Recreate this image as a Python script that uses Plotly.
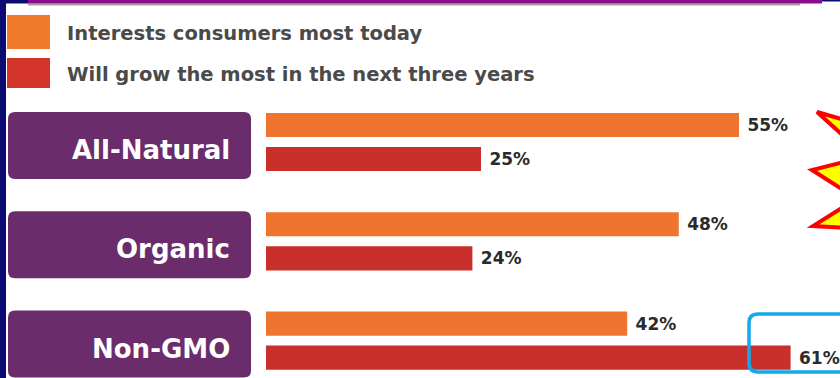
import plotly.graph_objects as go

# Survey data
categories = ["All-Natural", "Organic", "Non-GMO"]
series_names = ["Interests consumers most today", "Will grow the most in the next three years"]
today_pct = [55, 48, 42]
growth_pct = [25, 24, 61]

W, H = 840, 378
ORANGE = "#ee7430"
RED = "#c9302b"
PURPLE = "#6b2c6c"
NAVY = "#0b0b72"


def px(x):
    return x / W


def py(y):
    return 1 - y / H


def rounded_rect(x0, y0, x1, y1, rx, ry):
    return (f"M {x0 + rx},{y0} L {x1 - rx},{y0} Q {x1},{y0} {x1},{y0 + ry} "
            f"L {x1},{y1 - ry} Q {x1},{y1} {x1 - rx},{y1} L {x0 + rx},{y1} "
            f"Q {x0},{y1} {x0},{y1 - ry} L {x0},{y0 + ry} Q {x0},{y0} {x0 + rx},{y0} Z")


ypos = list(range(len(categories)))
UNIT = 99.3       # pixels per category step
TOP = 142         # pixel centre of the first group

value_font = dict(family="DejaVu Sans", size=17, color="#2b2b2b")

fig = go.Figure()
fig.add_trace(go.Bar(
    y=ypos, x=today_pct, orientation="h", name=series_names[0],
    marker=dict(color=ORANGE, line=dict(width=0)),
    texttemplate="\u00a0<b>%{x}%</b>", textposition="outside",
    textfont=value_font, cliponaxis=False, showlegend=False,
))
fig.add_trace(go.Bar(
    y=ypos, x=growth_pct, orientation="h", name=series_names[1],
    marker=dict(color=RED, line=dict(width=0)),
    texttemplate="\u00a0<b>%{x}%</b>", textposition="outside",
    textfont=value_font, cliponaxis=False, showlegend=False,
))

shapes = []
annotations = []

# Category label boxes
for i, name in enumerate(categories):
    y0 = i - 30 / UNIT
    y1 = i + 37 / UNIT
    shapes.append(dict(
        type="path", xref="paper", yref="y",
        path=rounded_rect(px(8), y0, px(251), y1, px(7), 7 / UNIT),
        fillcolor=PURPLE, line=dict(width=0), layer="below",
    ))
    annotations.append(dict(
        x=px(232), y=i + 8 / UNIT, xref="paper", yref="y",
        text=f"<b>{name}</b>", showarrow=False, xanchor="right", yanchor="middle",
        font=dict(family="DejaVu Sans", size=26, color="white"),
    ))

# Legend swatches and labels
for (y0, y1, col, label) in [(15, 49, "#f07a2c", series_names[0]),
                              (58, 88, "#d3352b", series_names[1])]:
    shapes.append(dict(type="rect", xref="paper", yref="paper",
                       x0=px(7), x1=px(50), y0=py(y1), y1=py(y0),
                       fillcolor=col, line=dict(width=0)))
    annotations.append(dict(
        x=px(65), y=py((y0 + y1) / 2 + 1), xref="paper", yref="paper",
        text=f"<b>{label}</b>", showarrow=False, xanchor="left", yanchor="middle",
        font=dict(family="DejaVu Sans", size=19.5, color="#4a4a4a"),
    ))

# Frame: navy strip on the left, purple rule across the top
shapes += [
    dict(type="rect", xref="paper", yref="paper", x0=0, x1=px(6), y0=0, y1=1,
         fillcolor=NAVY, line=dict(width=0)),
    dict(type="rect", xref="paper", yref="paper", x0=0, x1=px(28), y0=py(3.5), y1=1,
         fillcolor=NAVY, line=dict(width=0)),
    dict(type="rect", xref="paper", yref="paper", x0=px(28), x1=px(800), y0=py(5.5), y1=py(3.5),
         fillcolor="#a0a0a0", line=dict(width=0)),
    dict(type="rect", xref="paper", yref="paper", x0=px(28), x1=px(822), y0=py(3.5), y1=1,
         fillcolor="#8a0c8c", line=dict(width=0)),
    dict(type="rect", xref="paper", yref="paper", x0=px(822), x1=1, y0=py(1.5), y1=1,
         fillcolor=NAVY, line=dict(width=0)),
]

# Burst star at the right edge
star = [(848, 121), (817, 112), (848, 140), (848, 161), (812, 170), (848, 193),
        (848, 204), (813, 226), (848, 228)]
star_path = "M " + " L ".join(f"{px(x)},{py(y)}" for x, y in star) + " Z"
shapes.append(dict(type="path", xref="paper", yref="paper", path=star_path,
                   fillcolor="#ffff00", line=dict(color="#ff0000", width=4)))

# Highlight box around the largest growth value
shapes.append(dict(type="path", xref="paper", yref="paper",
                   path=rounded_rect(px(749), py(372), px(860), py(314), px(9), 9 / H),
                   fillcolor="rgba(0,0,0,0)", line=dict(color="#14a9ea", width=3.5)))

fig.update_layout(
    width=W, height=H,
    margin=dict(l=0, r=0, t=0, b=0),
    paper_bgcolor="white", plot_bgcolor="rgba(0,0,0,0)",
    barmode="group", bargap=0.315, bargroupgap=0.29,
    uniformtext=dict(mode=False),
    xaxis=dict(domain=[px(266), 1], range=[0, (W - 266) / 8.6],
               visible=False, fixedrange=True),
    yaxis=dict(domain=[0, 1], range=[(H - TOP) / UNIT, -TOP / UNIT],
               visible=False, fixedrange=True),
    shapes=shapes, annotations=annotations,
    showlegend=False,
)

fig.write_html("out.html")
